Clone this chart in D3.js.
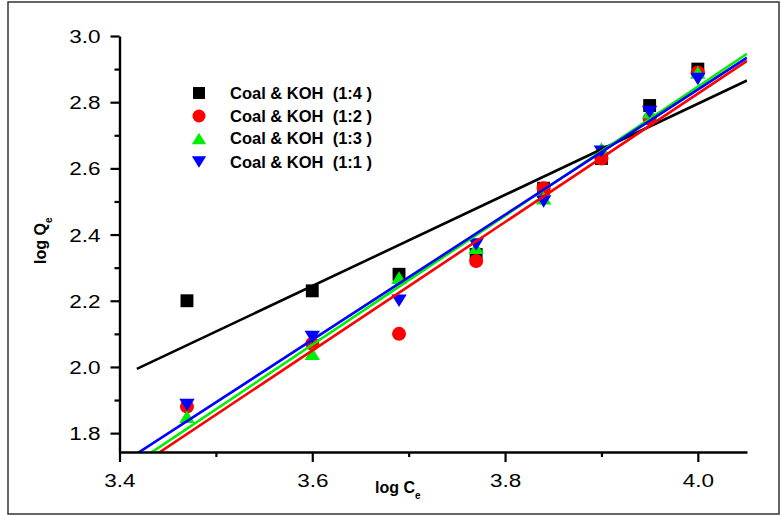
<!DOCTYPE html>
<html><head><meta charset="utf-8">
<script src="https://cdn.jsdelivr.net/npm/d3@7"></script>
<style>
body{margin:0;background:#fff;}
text{font-family:Arial,"Liberation Sans",sans-serif;}
</style></head>
<body><svg id="c" width="782" height="516"></svg>
<script>
const logC = [3.47, 3.60, 3.69, 3.77, 3.84, 3.90, 3.95, 4.00];
const s14 = [2.20, 2.23, 2.28, 2.34, 2.54, 2.63, 2.79, 2.90];
const s12 = [1.88, 2.07, 2.10, 2.32, 2.54, 2.63, 2.75, 2.89];
const s13 = [1.85, 2.04, 2.27, 2.36, 2.51, 2.66, 2.77, 2.89];
const s11 = [1.885, 2.09, 2.20, 2.37, 2.50, 2.65, 2.77, 2.87];
const seriesNames = ["Coal & KOH  (1:4 )", "Coal & KOH  (1:2 )", "Coal & KOH  (1:3 )", "Coal & KOH  (1:1 )"];
const seriesColors = ["#000000", "#ff0000", "#00ee00", "#0000ff"];
const seriesSymbols = ["square", "circle", "up", "down"];
// linear fits: slope, intercept, starting logC
const fitSlope = [1.377, 1.941, 1.950, 1.890];
const fitIntercept = [-2.7126, -4.938, -4.953, -4.722];
const fitStart = [3.418, 3.40, 3.40, 3.40];
const xMajor = [3.4, 3.6, 3.8, 4.0];
const xMinor = [3.5, 3.7, 3.9];
const yMajor = [1.8, 2.0, 2.2, 2.4, 2.6, 2.8, 3.0];
const yMinor = [1.9, 2.1, 2.3, 2.5, 2.7, 2.9];
const xDomain = [3.4, 4.051];
const yDomain = [1.743, 3.0];

const allSeries = [s14, s12, s13, s11];
const svg = d3.select("#c");
const L = 119.5, R = 747, T = 36, B = 452;
const x = d3.scaleLinear().domain(xDomain).range([L, R]);
const y = d3.scaleLinear().domain(yDomain).range([B, T]);
const TS = 1.25; // horizontal stretch of tick labels

// outer frame
svg.append("rect").attr("x", 8).attr("y", 2).attr("width", 771).attr("height", 512)
  .attr("fill", "none").attr("stroke", "#333").attr("stroke-width", 1.5);

svg.append("clipPath").attr("id", "clip").append("rect")
  .attr("x", L).attr("y", T - 20).attr("width", R - L).attr("height", B - T + 20);

function symbolPath(sym, cx, cy, s) {
  if (sym === "square") { const h = s * 0.46; return `M${cx-h},${cy-h}h${2*h}v${2*h}h${-2*h}Z`; }
  if (sym === "circle") { const r = s * 0.5; return `M${cx-r},${cy}a${r},${r} 0 1,0 ${2*r},0a${r},${r} 0 1,0 ${-2*r},0Z`; }
  const w = s * 0.55, h = s * 0.45;
  if (sym === "up") return `M${cx},${cy-h}L${cx+w},${cy+h}L${cx-w},${cy+h}Z`;
  return `M${cx},${cy+h}L${cx+w},${cy-h}L${cx-w},${cy-h}Z`;
}

// points
allSeries.forEach((vals, i) => {
  svg.append("g").selectAll("path").data(vals).join("path")
    .attr("d", (v, j) => symbolPath(seriesSymbols[i], x(logC[j]), y(v), 14))
    .attr("fill", seriesColors[i]);
});

// fit lines
const gl = svg.append("g").attr("clip-path", "url(#clip)");
allSeries.forEach((vals, i) => {
  const x0 = fitStart[i], x1 = xDomain[1];
  gl.append("line")
    .attr("x1", x(x0)).attr("y1", y(fitSlope[i] * x0 + fitIntercept[i]))
    .attr("x2", x(x1)).attr("y2", y(fitSlope[i] * x1 + fitIntercept[i]))
    .attr("stroke", seriesColors[i]).attr("stroke-width", 2.6);
});

// axes
const xAxis = svg.append("g").attr("transform", `translate(0,${B})`)
  .call(d3.axisBottom(x).tickValues(xMajor).tickFormat(d3.format(".1f")).tickSize(10).tickSizeOuter(0));
svg.append("g").attr("transform", `translate(0,${B})`)
  .call(d3.axisBottom(x).tickValues(xMinor).tickFormat("").tickSize(5).tickSizeOuter(0))
  .select(".domain").remove();
const yAxis = svg.append("g").attr("transform", `translate(${L},0)`)
  .call(d3.axisLeft(y).tickValues(yMajor).tickFormat(d3.format(".1f")).tickSize(9).tickSizeOuter(0));
svg.append("g").attr("transform", `translate(${L},0)`)
  .call(d3.axisLeft(y).tickValues(yMinor).tickFormat("").tickSize(5).tickSizeOuter(0))
  .select(".domain").remove();
svg.selectAll(".domain").attr("stroke", "#000").attr("stroke-width", 2.4);
svg.selectAll(".tick line").attr("stroke", "#000").attr("stroke-width", 2.2);
xAxis.selectAll(".tick text").attr("font-size", 18).attr("fill", "#000")
  .attr("y", 35).attr("dy", 0).attr("transform", `scale(${TS},1)`);
yAxis.selectAll(".tick text").attr("font-size", 18).attr("fill", "#000")
  .attr("x", -19 / TS).attr("dy", "0.36em").attr("transform", `scale(${TS},1)`);

// axis titles
const xt = svg.append("text").attr("x", 375).attr("y", 493).attr("font-size", 16).attr("font-weight", "bold");
xt.append("tspan").text("log C");
xt.append("tspan").text("e").attr("font-size", 10).attr("dy", 6);
const yt = svg.append("text").attr("transform", "translate(46,264) rotate(-90)").attr("font-size", 16).attr("font-weight", "bold");
yt.append("tspan").text("log Q");
yt.append("tspan").text("e").attr("font-size", 10).attr("dy", 6);

// legend
const legY = [93, 116, 138.5, 162];
seriesNames.forEach((n, i) => {
  svg.append("path").attr("d", symbolPath(seriesSymbols[i], 199, legY[i], 13)).attr("fill", seriesColors[i]);
  svg.append("text").attr("x", 230).attr("y", legY[i]).attr("dy", "0.36em")
    .attr("font-size", 16.5).attr("font-weight", "bold").style("white-space", "pre").text(n);
});
</script></body></html>
